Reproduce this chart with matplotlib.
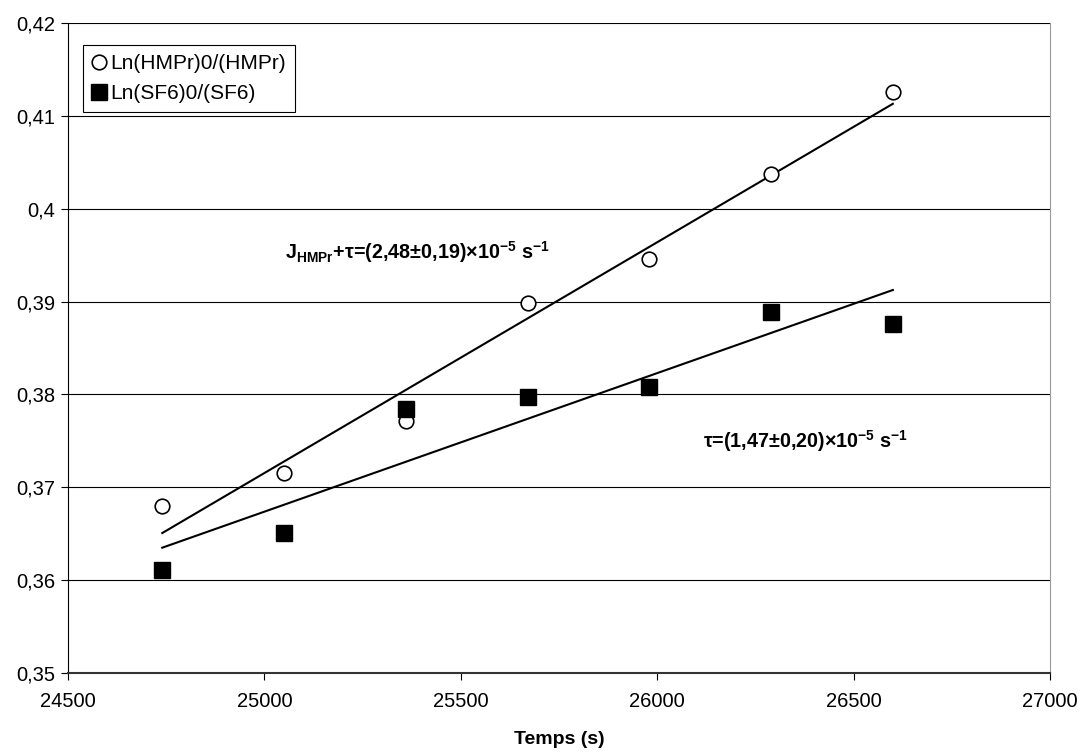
import matplotlib
matplotlib.use('Agg')
import matplotlib.pyplot as plt
import numpy as np

plt.rcParams['font.family'] = ['Liberation Sans', 'DejaVu Sans']
plt.rcParams['mathtext.fontset'] = 'custom'
plt.rcParams['mathtext.rm'] = 'Liberation Sans'
plt.rcParams['mathtext.bf'] = 'Liberation Sans:bold'

# data
temps = [24740, 25050, 25360, 25670, 25980, 26290, 26600]
hmpr = [0.3680, 0.3715, 0.3771, 0.3898, 0.3946, 0.4037, 0.4126]
sf6 = [0.3611, 0.3651, 0.3784, 0.3797, 0.3808, 0.3889, 0.3876]
y_ticks = [0.35, 0.36, 0.37, 0.38, 0.39, 0.40, 0.41, 0.42]
y_labels = ['0,35', '0,36', '0,37', '0,38', '0,39', '0,4', '0,41', '0,42']
x_ticks = [24500, 25000, 25500, 26000, 26500, 27000]


def trend(x, y):
    """least-squares line through the points, as Excel's trendline"""
    a, b = np.polyfit(x, y, 1)
    x = np.array(x)
    return x, a * x + b


fig = plt.figure(figsize=(10.81, 7.53), dpi=100)
ax = fig.add_axes([0.0629, 0.1062, 0.9084, 0.8633])

for yv in y_ticks[1:]:
    ax.axhline(yv, color='black', lw=0.8, zorder=1)

xh, yh = trend(temps, hmpr)
xs, ys = trend(temps, sf6)
ax.plot(xh, yh, color='black', lw=1.5, zorder=2)
ax.plot(xs, ys, color='black', lw=1.5, zorder=2)

ax.plot(temps, hmpr, linestyle='none', marker='o', markersize=10.5,
        markerfacecolor='white', markeredgecolor='black', markeredgewidth=1.2,
        label='Ln(HMPr)0/(HMPr)', zorder=3)
ax.plot(temps, sf6, linestyle='none', marker='s', markersize=11.5,
        markerfacecolor='black', markeredgecolor='black',
        label='Ln(SF6)0/(SF6)', zorder=4)

ax.set_xlim(24500, 27000)
ax.set_ylim(0.35, 0.42)
ax.set_xticks(x_ticks)
ax.set_xticklabels([str(v) for v in x_ticks])
ax.set_yticks(y_ticks)
ax.set_yticklabels(y_labels)
ax.tick_params(direction='out', length=5, width=0.8, color='black', labelsize=14.5)
ax.tick_params(axis='x', pad=9)
ax.tick_params(axis='y', pad=4)

ax.spines['left'].set_color('black')
ax.spines['bottom'].set_color('#333333')
ax.spines['bottom'].set_linewidth(1.5)
ax.spines['right'].set_color('#999999')
ax.spines['top'].set_visible(False)

ax.set_xlabel('Temps (s)', fontsize=14, fontweight='bold', labelpad=14)

ax.text(25052, 0.3953,
        r'J$_{\mathbf{HMPr}}$+τ=(2,48±0,19)×10$^{\mathbf{-5}}$ s$^{\mathbf{-1}}$',
        fontsize=14.2, fontweight='bold', va='center', ha='left')
ax.text(26117, 0.3750,
        r'τ=(1,47±0,20)×10$^{\mathbf{-5}}$ s$^{\mathbf{-1}}$',
        fontsize=14.2, fontweight='bold', va='center', ha='left')

leg = ax.legend(loc='upper left', bbox_to_anchor=(0.0153, 0.966), fontsize=15,
                frameon=True, fancybox=False, edgecolor='black', framealpha=1,
                handlelength=0.6, handletextpad=0.25, borderpad=0.45,
                labelspacing=0.5, borderaxespad=0)
leg.get_frame().set_linewidth(0.8)

fig.savefig('out.png', dpi=100, facecolor='white')
